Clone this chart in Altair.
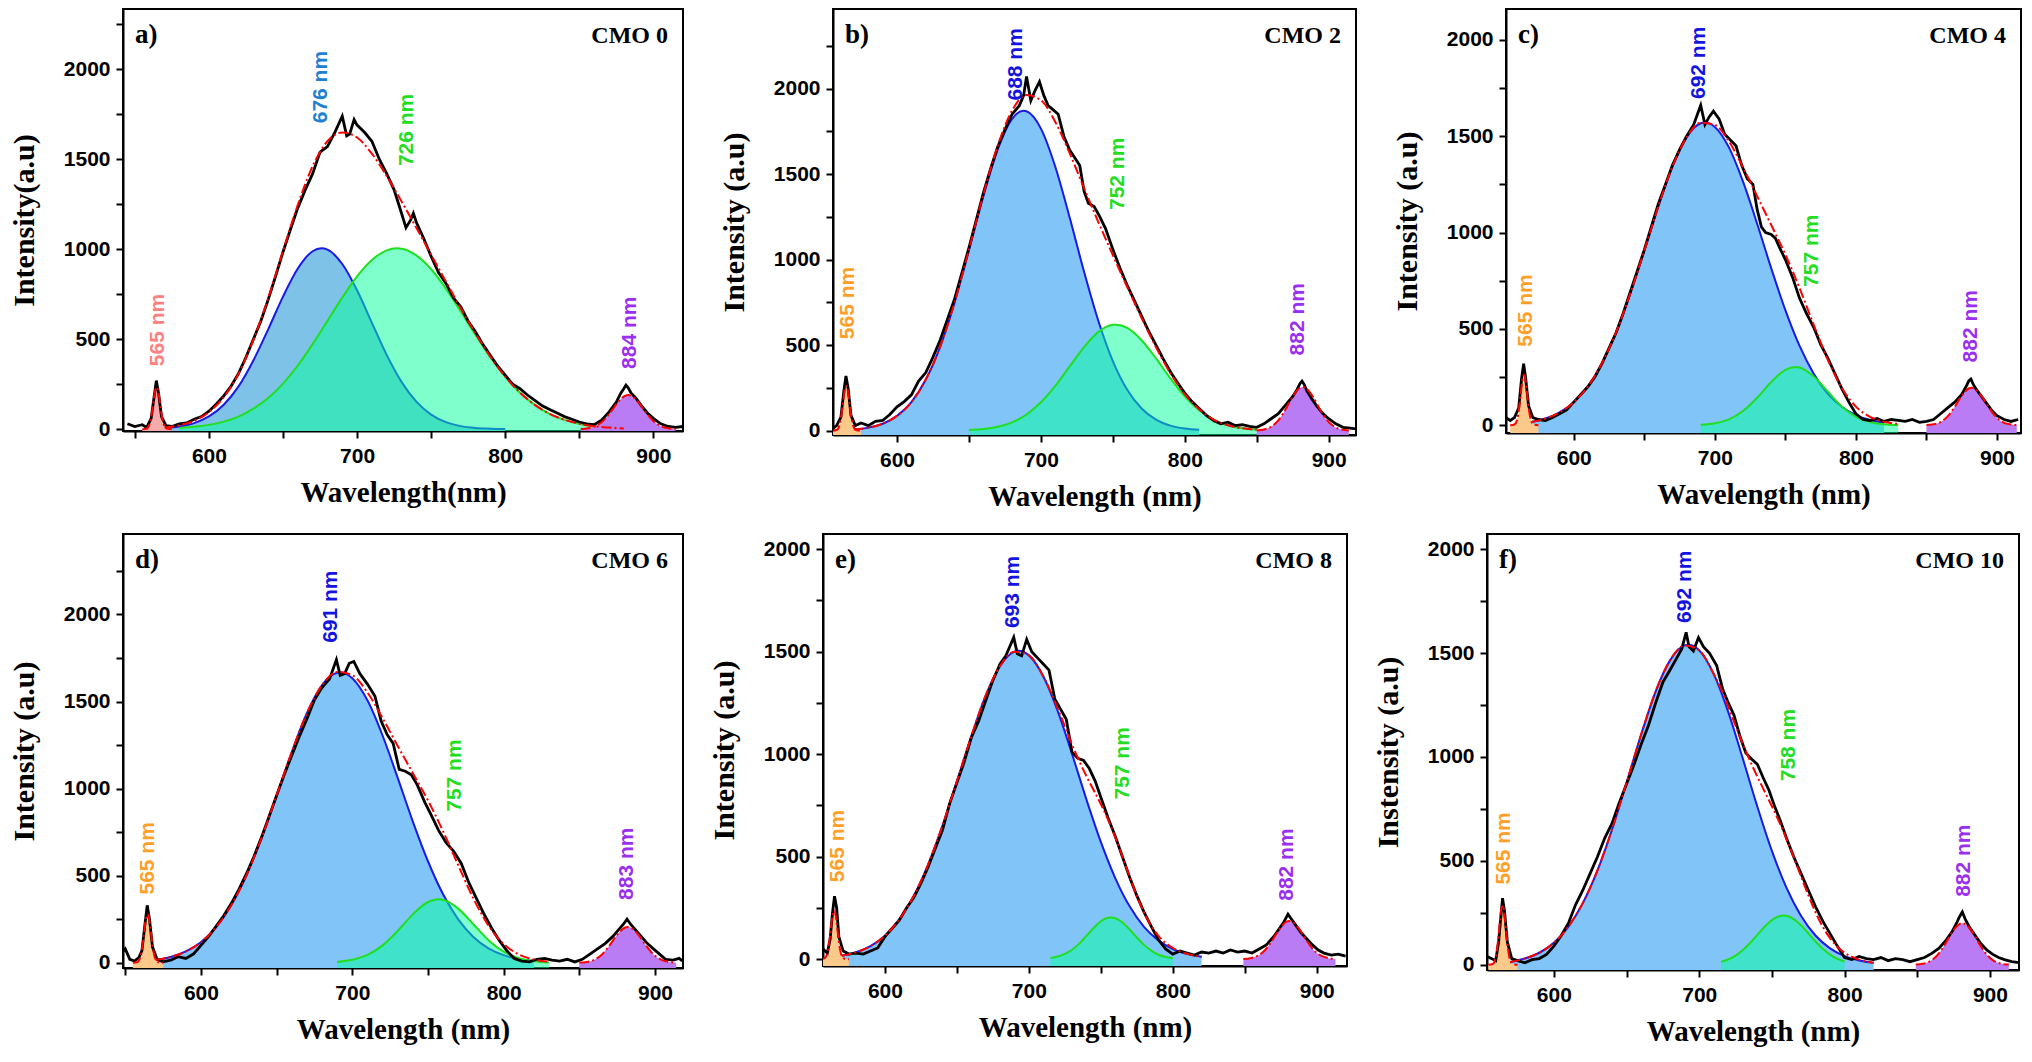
import altair as alt
import pandas as pd

# ---------------- shared sample positions ----------------
P565_X = [555, 558, 560, 562, 563, 564, 565, 566, 567, 568, 570, 572, 575]
PURPLE_X_A = [851, 856, 861, 866, 871, 876, 881, 883, 885, 890, 895, 900, 905, 910, 915]
PURPLE_X_BCD = [850, 855, 860, 865, 870, 875, 880, 882, 884, 889, 894, 899, 904, 909, 914]
PURPLE_X_EF = [849, 854, 859, 864, 869, 874, 879, 881, 883, 888, 893, 898, 903, 908, 913]
LABEL_TEXT = {
    "a": ["565 nm", "676 nm", "726 nm", "884 nm"],
    "b": ["565 nm", "688 nm", "752 nm", "882 nm"],
    "c": ["565 nm", "692 nm", "757 nm", "882 nm"],
    "d": ["565 nm", "691 nm", "757 nm", "883 nm"],
    "e": ["565 nm", "693 nm", "757 nm", "882 nm"],
    "f": ["565 nm", "692 nm", "758 nm", "882 nm"],
}

# ---------------- panel a (CMO 0) ----------------
A_BLUE_X = [570, 580, 590, 600, 610, 620, 630, 640, 650, 660, 670, 676, 680, 690, 700, 710, 720, 730, 740, 750, 760, 770, 780, 790, 800]
A_BLUE_Y = [6, 15, 34, 71, 136, 238, 382, 555, 737, 893, 989, 1005, 998, 918, 772, 591, 413, 263, 153, 81, 39, 17, 7, 3, 1]
A_GREEN_X = [580, 590, 600, 610, 620, 630, 640, 650, 660, 670, 680, 690, 700, 710, 720, 727, 730, 740, 750, 760, 770, 780, 790, 800, 810, 820, 830, 840, 850, 860, 870, 880]
A_GREEN_Y = [7, 13, 24, 42, 70, 114, 173, 253, 354, 473, 602, 731, 849, 940, 994, 1005, 1003, 966, 889, 781, 654, 524, 400, 292, 203, 135, 85, 52, 30, 16, 9, 4]
A_FIT_X = [570, 580, 590, 600, 610, 620, 630, 640, 650, 660, 670, 680, 690, 700, 710, 720, 730, 740, 750, 760, 770, 780, 790, 800, 810, 820, 830, 840, 850, 860, 870, 880]
A_FIT_Y = [9, 22, 47, 95, 178, 308, 496, 728, 990, 1247, 1462, 1600, 1649, 1621, 1531, 1407, 1266, 1119, 970, 820, 671, 531, 403, 292, 203, 135, 85, 52, 30, 16, 9, 4]
A_P565 = [0, 4, 28, 118, 179, 224, 233, 200, 143, 85, 16, 2, 0]
A_PURPLE = [1, 5, 17, 45, 93, 149, 186, 190, 186, 149, 93, 45, 17, 5, 1]
A_BLACK_X = [545, 550, 555, 558, 561, 563, 564.5, 566, 568, 571, 575, 580, 585, 590, 595, 600, 605, 610, 615, 620, 625, 630, 635, 640, 645, 650, 655, 660, 665, 670, 675, 680, 685, 690, 693, 695, 698, 700, 705, 710, 715, 720, 725, 730, 733, 736, 738, 740, 745, 750, 755, 760, 765, 770, 775, 780, 785, 790, 795, 800, 805, 810, 815, 820, 825, 830, 835, 840, 845, 850, 855, 860, 865, 870, 875, 878, 880, 881.5, 883, 885, 888, 892, 896, 900, 905, 910, 915, 920]
A_BLACK_Y = [30, 15, 25, 10, 60, 180, 270, 200, 70, 20, 15, 30, 35, 55, 70, 100, 140, 185, 240, 310, 400, 500, 600, 720, 850, 985, 1110, 1230, 1330, 1420, 1540, 1570, 1650, 1740, 1630, 1640, 1720, 1690, 1650, 1600, 1500, 1420, 1330, 1200, 1120, 1160, 1200, 1150, 1060, 960, 870, 810, 730, 680, 600, 540, 470, 410, 350, 300, 250, 225, 190, 160, 130, 110, 90, 70, 55, 40, 30, 25, 50, 95, 150, 200, 225, 245, 230, 200, 175, 130, 90, 60, 30, 15, 10, 15]
A_LABEL_X = [565.9, 675.6, 734, 884.2]
A_LABEL_Y = [350, 1700, 1462, 335]

# ---------------- panel b (CMO 2) ----------------
B_BLUE_X = [570, 580, 590, 600, 610, 620, 630, 640, 650, 660, 670, 680, 688, 690, 700, 710, 720, 730, 740, 750, 760, 770, 780, 790, 800, 810]
B_BLUE_Y = [7, 18, 41, 87, 167, 299, 492, 750, 1055, 1370, 1644, 1823, 1870, 1867, 1766, 1543, 1246, 929, 640, 407, 239, 130, 65, 30, 13, 5]
B_GREEN_X = [650, 660, 670, 680, 690, 700, 710, 720, 730, 740, 750, 752, 760, 770, 780, 790, 800, 810, 820, 830, 840, 850]
B_GREEN_Y = [4, 10, 23, 49, 95, 166, 262, 376, 489, 578, 619, 620, 601, 529, 423, 306, 201, 120, 65, 32, 14, 6]
B_FIT_X = [570, 580, 590, 600, 610, 620, 630, 640, 650, 660, 670, 680, 690, 700, 710, 720, 730, 740, 750, 760, 770, 780, 790, 800, 810, 820, 830, 840, 850]
B_FIT_Y = [7, 18, 41, 87, 167, 299, 492, 750, 1059, 1380, 1667, 1872, 1962, 1932, 1805, 1622, 1418, 1218, 1026, 840, 659, 488, 336, 214, 125, 65, 32, 14, 6]
B_P565 = [0, 4, 32, 133, 201, 253, 262, 225, 162, 95, 19, 3, 0]
B_PURPLE = [2, 7, 23, 60, 124, 200, 250, 255, 250, 200, 124, 60, 23, 7, 2]
B_BLACK_X = [555, 558, 561, 563, 564.5, 566, 568, 571, 575, 580, 585, 590, 595, 600, 605, 610, 615, 620, 625, 630, 635, 640, 645, 650, 655, 660, 665, 670, 675, 680, 685, 688, 690, 693, 696, 699, 702, 705, 708, 712, 716, 720, 724, 727, 730, 733, 737, 741, 745, 750, 755, 760, 765, 770, 775, 780, 785, 790, 795, 800, 805, 810, 815, 820, 825, 830, 835, 840, 845, 850, 855, 860, 865, 870, 875, 878, 880, 881.5, 883, 885, 888, 892, 896, 900, 905, 910, 915, 920]
B_BLACK_Y = [10, 30, 80, 230, 320, 250, 90, 30, 45, 30, 55, 60, 95, 140, 170, 210, 290, 340, 430, 530, 650, 770, 920, 1070, 1230, 1390, 1530, 1660, 1760, 1850, 1900, 1960, 2070, 1930, 1990, 2040, 1960, 1900, 1880, 1850, 1720, 1640, 1590, 1550, 1400, 1330, 1310, 1250, 1180, 1060, 950, 850, 760, 670, 580, 500, 420, 345, 280, 220, 170, 130, 90, 60, 40, 50, 30, 35, 25, 20, 40, 70, 100, 150, 200, 240, 275, 290, 270, 230, 190, 140, 100, 70, 40, 20, 15, 10]
B_LABEL_X = [565.6, 683, 753.5, 879]
B_LABEL_Y = [535, 1930, 1290, 440]

# ---------------- panel c (CMO 4) ----------------
C_BLUE_X = [570, 580, 590, 600, 610, 620, 630, 640, 650, 660, 670, 680, 690, 693, 700, 710, 720, 730, 740, 750, 760, 770, 780, 790, 800, 810, 820]
C_BLUE_Y = [17, 35, 67, 120, 202, 322, 482, 681, 906, 1136, 1343, 1494, 1567, 1571, 1548, 1442, 1264, 1046, 814, 598, 413, 269, 165, 96, 52, 27, 13]
C_GREEN_X = [690, 700, 710, 720, 730, 740, 750, 757, 760, 770, 780, 790, 800, 810, 820, 830]
C_GREEN_Y = [3, 11, 31, 74, 143, 225, 288, 303, 300, 254, 176, 98, 45, 17, 5, 1]
C_FIT_X = [570, 580, 590, 600, 610, 620, 630, 640, 650, 660, 670, 680, 690, 700, 710, 720, 730, 740, 750, 760, 770, 780, 790, 800, 810, 820, 830]
C_FIT_Y = [17, 35, 67, 120, 202, 322, 482, 681, 906, 1136, 1343, 1494, 1570, 1559, 1473, 1338, 1189, 1039, 886, 713, 523, 341, 194, 97, 44, 18, 7]
C_P565 = [0, 4, 32, 133, 201, 253, 262, 225, 162, 95, 19, 3, 0]
C_PURPLE = [1, 5, 17, 46, 95, 153, 191, 195, 191, 153, 95, 46, 17, 5, 1]
C_BLACK_X = [552, 555, 558, 561, 563, 564.5, 566, 568, 571, 575, 580, 585, 590, 595, 600, 605, 610, 615, 620, 625, 630, 635, 640, 645, 650, 655, 660, 665, 670, 675, 680, 685, 688, 690, 693, 696, 699, 703, 707, 711, 715, 719, 723, 727, 730, 733, 736, 740, 743, 746, 750, 755, 760, 765, 770, 775, 780, 785, 790, 795, 800, 805, 810, 815, 820, 825, 830, 835, 840, 845, 850, 855, 860, 865, 870, 875, 878, 880, 881.5, 883, 885, 888, 892, 896, 900, 905, 910, 915]
C_BLACK_Y = [40, 25, 40, 90, 240, 320, 240, 100, 40, 30, 25, 40, 60, 80, 120, 160, 200, 250, 320, 400, 480, 580, 690, 800, 910, 1030, 1150, 1250, 1350, 1430, 1500, 1560, 1620, 1660, 1560, 1600, 1630, 1590, 1510, 1480, 1450, 1350, 1280, 1250, 1120, 1030, 1000, 990, 970, 920, 860, 770, 660, 580, 510, 420, 350, 270, 190, 120, 60, 30, 25, 35, 20, 30, 25, 20, 30, 15, 20, 30, 60, 90, 120, 160, 200, 230, 240, 215, 190, 160, 120, 80, 50, 30, 20, 30]
C_LABEL_X = [566.5, 688.9, 768.9, 881.5]
C_LABEL_Y = [408, 1693, 718, 326]

# ---------------- panel d (CMO 6) ----------------
D_BLUE_X = [570, 580, 590, 600, 610, 620, 630, 640, 650, 660, 670, 680, 690, 692, 700, 710, 720, 730, 740, 750, 760, 770, 780, 790, 800, 810, 820]
D_BLUE_Y = [16, 33, 65, 118, 204, 330, 501, 716, 961, 1210, 1433, 1594, 1665, 1667, 1634, 1507, 1305, 1062, 811, 583, 393, 249, 148, 83, 44, 22, 10]
D_GREEN_X = [690, 700, 710, 720, 730, 740, 750, 757, 760, 770, 780, 790, 800, 810, 820, 830]
D_GREEN_Y = [5, 17, 45, 100, 183, 278, 349, 365, 362, 311, 221, 130, 64, 26, 9, 2]
D_FIT_X = [570, 580, 590, 600, 610, 620, 630, 640, 650, 660, 670, 680, 690, 700, 710, 720, 730, 740, 750, 760, 770, 780, 790, 800, 810, 820, 830]
D_FIT_Y = [16, 33, 65, 118, 204, 330, 501, 716, 961, 1210, 1433, 1594, 1670, 1651, 1552, 1405, 1245, 1089, 932, 755, 560, 369, 213, 108, 48, 19, 6]
D_P565 = [0, 4, 34, 141, 214, 268, 278, 239, 171, 101, 20, 3, 0]
D_PURPLE = [1, 5, 18, 48, 100, 161, 201, 205, 201, 161, 100, 48, 18, 5, 1]
D_BLACK_X = [548, 550, 553, 556, 559, 561, 563, 564.5, 566, 568, 571, 575, 580, 585, 590, 595, 600, 605, 610, 615, 620, 625, 630, 635, 640, 645, 650, 655, 660, 665, 670, 675, 680, 685, 689.5, 692, 695, 698, 701, 705, 710, 715, 719, 723, 727, 731, 735, 739, 743, 748, 752, 757, 762, 767, 772, 777, 782, 787, 792, 797, 802, 807, 812, 817, 822, 827, 832, 837, 842, 847, 852, 857, 862, 867, 872, 876, 879, 881.5, 884, 887, 891, 895, 899, 903, 907, 912, 916, 918]
D_BLACK_Y = [60, 80, 20, 10, 30, 70, 220, 330, 250, 90, 20, 5, 15, 35, 25, 50, 100, 150, 210, 270, 340, 420, 510, 610, 720, 840, 960, 1080, 1190, 1300, 1400, 1510, 1580, 1630, 1740, 1650, 1660, 1720, 1730, 1660, 1600, 1530, 1390, 1310, 1260, 1110, 1100, 1080, 1020, 920, 850, 760, 690, 640, 570, 460, 370, 280, 200, 130, 70, 25, 10, 5, 20, 25, 15, 10, 20, 5, 20, 50, 80, 110, 150, 190, 220, 250, 220, 190, 150, 110, 80, 50, 20, 15, 25, 10]
D_LABEL_X = [565.3, 686.2, 767.6, 881.8]
D_LABEL_Y = [392, 1837, 867, 361]

# ---------------- panel e (CMO 8) ----------------
E_BLUE_X = [570, 580, 590, 600, 610, 620, 630, 640, 650, 660, 670, 680, 690, 693, 700, 710, 720, 730, 740, 750, 760, 770, 780, 790, 800, 810, 820]
E_BLUE_Y = [17, 34, 64, 115, 194, 308, 462, 652, 868, 1087, 1286, 1430, 1500, 1504, 1482, 1380, 1211, 1001, 779, 572, 396, 258, 158, 92, 50, 26, 12]
E_GREEN_X = [715, 720, 725, 730, 735, 740, 745, 750, 755, 757, 760, 765, 770, 775, 780, 785, 790, 795, 800]
E_GREEN_Y = [6, 13, 26, 46, 76, 114, 152, 185, 202, 204, 200, 179, 145, 106, 70, 42, 22, 11, 5]
E_FIT_X = [570, 580, 590, 600, 610, 620, 630, 640, 650, 660, 670, 680, 690, 700, 710, 715, 720, 725, 730, 735, 740, 745, 750, 755, 760, 765, 770, 775, 780, 785, 790, 800, 810, 820]
E_FIT_Y = [17, 34, 64, 115, 194, 308, 462, 652, 868, 1087, 1286, 1430, 1500, 1482, 1380, 1308, 1224, 1136, 1047, 966, 893, 825, 757, 681, 596, 501, 403, 309, 228, 163, 114, 55, 26, 12]
E_P565 = [0, 4, 29, 120, 182, 229, 238, 204, 146, 86, 17, 2, 0]
E_PURPLE = [1, 5, 17, 44, 91, 146, 183, 187, 183, 146, 91, 44, 17, 5, 1]
E_BLACK_X = [557, 560, 562, 563.5, 565, 566.5, 568, 571, 575, 580, 585, 590, 595, 600, 605, 610, 615, 620, 625, 630, 635, 640, 645, 650, 655, 660, 665, 670, 675, 680, 684, 689.5, 692, 695, 698.5, 702, 706, 710, 714, 718, 722, 726, 730, 734, 738, 742, 746, 750, 755, 760, 765, 770, 775, 780, 785, 790, 795, 800, 805, 810, 815, 820, 825, 830, 835, 840, 845, 850, 855, 860, 865, 870, 874, 877, 880, 882, 885, 889, 893, 897, 901, 905, 910, 915, 920]
E_BLACK_Y = [50, 30, 100, 220, 307, 250, 110, 40, 25, 30, 25, 40, 55, 110, 150, 190, 250, 300, 370, 450, 540, 630, 760, 860, 960, 1080, 1160, 1260, 1360, 1440, 1480, 1570, 1490, 1480, 1560, 1500, 1470, 1440, 1410, 1270, 1220, 1170, 1010, 980, 970, 930, 870, 790, 690, 600, 500, 400, 310, 230, 160, 95, 50, 25, 40, 30, 20, 35, 30, 40, 30, 45, 35, 40, 30, 50, 70, 110, 150, 180, 220, 200, 170, 130, 100, 70, 45, 30, 20, 25, 15]
E_LABEL_X = [567.5, 689, 765.7, 879.6]
E_LABEL_Y = [376, 1615, 779, 285]

# ---------------- panel f (CMO 10) ----------------
F_BLUE_X = [570, 580, 590, 600, 610, 620, 630, 640, 650, 660, 670, 680, 690, 692.5, 700, 710, 720, 730, 740, 750, 760, 770, 780, 790, 800, 810, 820]
F_BLUE_Y = [14, 30, 58, 106, 184, 298, 454, 651, 876, 1107, 1315, 1466, 1537, 1540, 1513, 1399, 1216, 992, 761, 548, 371, 236, 141, 79, 42, 21, 10]
F_GREEN_X = [715, 720, 725, 730, 735, 740, 745, 750, 755, 758, 760, 765, 770, 775, 780, 785, 790, 795, 800]
F_GREEN_Y = [14, 26, 44, 71, 105, 144, 183, 215, 234, 237, 236, 220, 190, 152, 112, 77, 49, 29, 16]
F_FIT_X = [570, 580, 590, 600, 610, 620, 630, 640, 650, 660, 670, 680, 690, 700, 710, 715, 720, 725, 730, 735, 740, 745, 750, 755, 760, 765, 770, 775, 780, 785, 790, 795, 800, 810, 820]
F_FIT_Y = [14, 30, 58, 106, 184, 298, 454, 651, 876, 1107, 1315, 1466, 1537, 1513, 1399, 1329, 1242, 1151, 1063, 981, 905, 834, 763, 688, 607, 518, 426, 336, 253, 183, 128, 87, 58, 25, 10]
F_P565 = [0, 4, 35, 144, 219, 275, 285, 245, 176, 104, 20, 3, 0]
F_PURPLE = [1, 5, 18, 47, 97, 157, 196, 200, 196, 157, 97, 47, 18, 5, 1]
F_BLACK_X = [554, 557, 560, 562, 563.5, 564.7, 566, 568, 571, 575, 580, 585, 590, 595, 600, 605, 610, 615, 620, 625, 630, 635, 640, 645, 650, 655, 660, 665, 670, 675, 680, 684, 688, 691, 693, 696, 699.5, 703, 707, 712, 716, 720, 724, 728, 732, 736, 740, 744, 748, 752, 756, 760, 765, 770, 775, 780, 785, 790, 795, 800, 805, 810, 815, 820, 825, 830, 835, 840, 845, 850, 855, 860, 865, 870, 874, 877, 879, 881, 883, 886, 890, 894, 898, 902, 906, 910, 915, 920]
F_BLACK_Y = [40, 30, 20, 110, 230, 321, 260, 110, 30, 20, 10, 25, 30, 50, 90, 140, 200, 290, 360, 440, 520, 610, 680, 780, 870, 960, 1060, 1150, 1260, 1360, 1420, 1470, 1520, 1600, 1530, 1510, 1575, 1530, 1500, 1440, 1330, 1260, 1200, 1100, 1020, 990, 965, 900, 840, 760, 690, 610, 520, 440, 360, 280, 210, 150, 90, 35, 25, 40, 30, 25, 35, 20, 30, 25, 15, 25, 35, 55, 80, 120, 160, 200, 230, 254, 220, 180, 140, 100, 70, 50, 35, 25, 15, 10]
F_LABEL_X = [565.6, 690.3, 761.7, 882.2]
F_LABEL_Y = [386, 1645, 883, 327]

# ---------------- styling ----------------
BLUE_LINE = "#1a1ae6"
GREEN_FILL = "#00ff99"
GREEN_LINE = "#1ee01e"
PURPLE_FILL = "#b97cf4"
RED = "#ff0000"
ORANGE_FILL = "#fbc98a"
PINK_FILL = "#f5abab"
LBL_GREEN = "#22dd22"
LBL_BLUE = "#1414e0"
LBL_PURPLE = "#9a2ff0"
LBL_ORANGE = "#ff9f2a"

X_TICKS = [550, 600, 650, 700, 750, 800, 850, 900]
Y_TICKS = [0, 250, 500, 750, 1000, 1250, 1500, 1750, 2000, 2250]


def frame(xs, ys):
    return pd.DataFrame({"x": xs, "y": ys})


def make_panel(p):
    xv = [v for v in X_TICKS if p["xdom"][0] <= v <= p["xdom"][1]]
    yv = [v for v in Y_TICKS if p["ydom"][0] <= v <= p["ydom"][1]]
    X = alt.X("x:Q", scale=alt.Scale(domain=p["xdom"], nice=False, zero=False),
              axis=alt.Axis(title=p["xtitle"], values=xv, format="d",
                            labelExpr="datum.value % 100 === 0 ? datum.label : ''"))
    Y = alt.Y("y:Q", scale=alt.Scale(domain=p["ydom"], nice=False, zero=False),
              axis=alt.Axis(title=p["ytitle"], values=yv, format="d",
                            labelExpr="datum.value % 500 === 0 ? datum.label : ''"))
    base0 = alt.datum(p["ydom"][0])
    dash = [10, 3, 2, 3]
    layers = [
        alt.Chart(frame(p["blue_x"], p["blue_y"])).mark_area(
            interpolate="monotone", color=p["blue_fill"], clip=True).encode(x=X, y=Y, y2=base0),
        alt.Chart(frame(p["blue_x"], p["blue_y"])).mark_line(
            interpolate="monotone", color=BLUE_LINE, strokeWidth=2, clip=True).encode(x=X, y=Y),
        alt.Chart(frame(p["green_x"], p["green_y"])).mark_area(
            interpolate="monotone", color=GREEN_FILL, opacity=0.5, clip=True).encode(x=X, y=Y, y2=base0),
        alt.Chart(frame(p["green_x"], p["green_y"])).mark_line(
            interpolate="monotone", color=GREEN_LINE, strokeWidth=2, clip=True).encode(x=X, y=Y),
        alt.Chart(frame(P565_X, p["p565"])).mark_area(
            interpolate="monotone", color=p["p565_fill"], clip=True).encode(x=X, y=Y, y2=base0),
        alt.Chart(frame(p["purple_x"], p["purple"])).mark_area(
            interpolate="monotone", color=PURPLE_FILL, clip=True).encode(x=X, y=Y, y2=base0),
        alt.Chart(frame(p["black_x"], p["black_y"])).mark_line(
            color="black", strokeWidth=2.8, clip=True).encode(x=X, y=Y),
        alt.Chart(frame(p["fit_x"], p["fit_y"])).mark_line(
            interpolate="monotone", color=RED, strokeWidth=2, strokeDash=dash, clip=True).encode(x=X, y=Y),
        alt.Chart(frame(P565_X, p["p565"])).mark_line(
            interpolate="monotone", color=RED, strokeWidth=2, strokeDash=dash, clip=True).encode(x=X, y=Y),
        alt.Chart(frame(p["purple_x"], p["purple"])).mark_line(
            interpolate="monotone", color=RED, strokeWidth=2, strokeDash=dash, clip=True).encode(x=X, y=Y),
    ]
    lab = pd.DataFrame({"x": p["lab_x"], "y": p["lab_y"], "t": p["lab_t"], "c": p["lab_c"]})
    layers.append(
        alt.Chart(lab).mark_text(angle=270, align="left", baseline="middle", font="Liberation Sans",
                                 fontWeight="bold", fontSize=21).encode(
            x=X, y=Y, text="t:N", color=alt.Color("c:N", scale=None)))
    layers.append(
        alt.Chart(pd.DataFrame({"t": [p["letter"]]})).mark_text(
            align="left", baseline="top", font="Liberation Serif", fontWeight="bold", fontSize=27,
            color="black").encode(x=alt.value(12), y=alt.value(13), text="t:N"))
    layers.append(
        alt.Chart(pd.DataFrame({"t": [p["name"]]})).mark_text(
            align="right", baseline="top", font="Liberation Serif", fontWeight="bold", fontSize=24,
            color="black").encode(x=alt.value(p["w"] - 15), y=alt.value(15), text="t:N"))
    return alt.layer(*layers).properties(width=p["w"], height=p["h"])


def lab_colors(c565, cblue):
    return [c565, cblue, LBL_GREEN, LBL_PURPLE]


panels = {
    "a": dict(letter="a)", name="CMO 0", xdom=[542, 920], ydom=[-10, 2335], w=560, h=422,
              xtitle="Wavelength(nm)", ytitle="Intensity(a.u)", blue_fill="#7ec2e8", p565_fill=PINK_FILL,
              blue_x=A_BLUE_X, blue_y=A_BLUE_Y, green_x=A_GREEN_X, green_y=A_GREEN_Y,
              fit_x=A_FIT_X, fit_y=A_FIT_Y, p565=A_P565, purple_x=PURPLE_X_A, purple=A_PURPLE,
              black_x=A_BLACK_X, black_y=A_BLACK_Y, lab_x=A_LABEL_X, lab_y=A_LABEL_Y,
              lab_t=LABEL_TEXT["a"], lab_c=lab_colors("#ff8080", "#1e80d0")),
    "b": dict(letter="b)", name="CMO 2", xdom=[555.5, 919], ydom=[-25, 2465], w=523, h=426,
              xtitle="Wavelength (nm)", ytitle="Intensity (a.u)", blue_fill="#80c4f8", p565_fill=ORANGE_FILL,
              blue_x=B_BLUE_X, blue_y=B_BLUE_Y, green_x=B_GREEN_X, green_y=B_GREEN_Y,
              fit_x=B_FIT_X, fit_y=B_FIT_Y, p565=B_P565, purple_x=PURPLE_X_BCD, purple=B_PURPLE,
              black_x=B_BLACK_X, black_y=B_BLACK_Y, lab_x=B_LABEL_X, lab_y=B_LABEL_Y,
              lab_t=LABEL_TEXT["b"], lab_c=lab_colors(LBL_ORANGE, LBL_BLUE)),
    "c": dict(letter="c)", name="CMO 4", xdom=[552, 917], ydom=[-40, 2160], w=515, h=424,
              xtitle="Wavelength (nm)", ytitle="Intensity (a.u)", blue_fill="#80c4f8", p565_fill=ORANGE_FILL,
              blue_x=C_BLUE_X, blue_y=C_BLUE_Y, green_x=C_GREEN_X, green_y=C_GREEN_Y,
              fit_x=C_FIT_X, fit_y=C_FIT_Y, p565=C_P565, purple_x=PURPLE_X_BCD, purple=C_PURPLE,
              black_x=C_BLACK_X, black_y=C_BLACK_Y, lab_x=C_LABEL_X, lab_y=C_LABEL_Y,
              lab_t=LABEL_TEXT["c"], lab_c=lab_colors(LBL_ORANGE, LBL_BLUE)),
    "d": dict(letter="d)", name="CMO 6", xdom=[548.5, 918.5], ydom=[-30, 2462], w=560, h=434,
              xtitle="Wavelength (nm)", ytitle="Intensity (a.u)", blue_fill="#80c4f8", p565_fill=ORANGE_FILL,
              blue_x=D_BLUE_X, blue_y=D_BLUE_Y, green_x=D_GREEN_X, green_y=D_GREEN_Y,
              fit_x=D_FIT_X, fit_y=D_FIT_Y, p565=D_P565, purple_x=PURPLE_X_BCD, purple=D_PURPLE,
              black_x=D_BLACK_X, black_y=D_BLACK_Y, lab_x=D_LABEL_X, lab_y=D_LABEL_Y,
              lab_t=LABEL_TEXT["d"], lab_c=lab_colors(LBL_ORANGE, LBL_BLUE)),
    "e": dict(letter="e)", name="CMO 8", xdom=[557, 921], ydom=[-33, 2074], w=524, h=432,
              xtitle="Wavelength (nm)", ytitle="Intensity (a.u)", blue_fill="#80c4f8", p565_fill=ORANGE_FILL,
              blue_x=E_BLUE_X, blue_y=E_BLUE_Y, green_x=E_GREEN_X, green_y=E_GREEN_Y,
              fit_x=E_FIT_X, fit_y=E_FIT_Y, p565=E_P565, purple_x=PURPLE_X_EF, purple=E_PURPLE,
              black_x=E_BLACK_X, black_y=E_BLACK_Y, lab_x=E_LABEL_X, lab_y=E_LABEL_Y,
              lab_t=LABEL_TEXT["e"], lab_c=lab_colors(LBL_ORANGE, LBL_BLUE)),
    "f": dict(letter="f)", name="CMO 10", xdom=[554, 920], ydom=[-25, 2073], w=532, h=436,
              xtitle="Wavelength (nm)", ytitle="Instensity (a.u)", blue_fill="#80c4f8", p565_fill=ORANGE_FILL,
              blue_x=F_BLUE_X, blue_y=F_BLUE_Y, green_x=F_GREEN_X, green_y=F_GREEN_Y,
              fit_x=F_FIT_X, fit_y=F_FIT_Y, p565=F_P565, purple_x=PURPLE_X_EF, purple=F_PURPLE,
              black_x=F_BLACK_X, black_y=F_BLACK_Y, lab_x=F_LABEL_X, lab_y=F_LABEL_Y,
              lab_t=LABEL_TEXT["f"], lab_c=lab_colors(LBL_ORANGE, LBL_BLUE)),
}

row1 = alt.hconcat(make_panel(panels["a"]), make_panel(panels["b"]), make_panel(panels["c"]), spacing=34)
row2 = alt.hconcat(make_panel(panels["d"]), make_panel(panels["e"]), make_panel(panels["f"]), spacing=24)

chart = (
    alt.vconcat(row1, row2, spacing=21)
    .properties(padding={"left": 0, "top": 0, "right": 0, "bottom": 0}, background="white")
    .configure_view(stroke="black", strokeWidth=2)
    .configure_axis(
        labelFont="Liberation Sans", labelFontWeight="bold", labelFontSize=21, labelColor="black",
        titleFont="Liberation Serif", titleFontWeight="bold", titleColor="black",
        tickColor="black", tickWidth=2, tickSize=7, domainColor="black", domainWidth=2,
        grid=False, labelFlush=False)
    .configure_axisX(labelPadding=7, titlePadding=12, titleFontSize=29)
    .configure_axisY(labelPadding=6, titlePadding=24, titleFontSize=30)
)

chart.save("out.html", embed_options={"renderer": "svg", "actions": False})
